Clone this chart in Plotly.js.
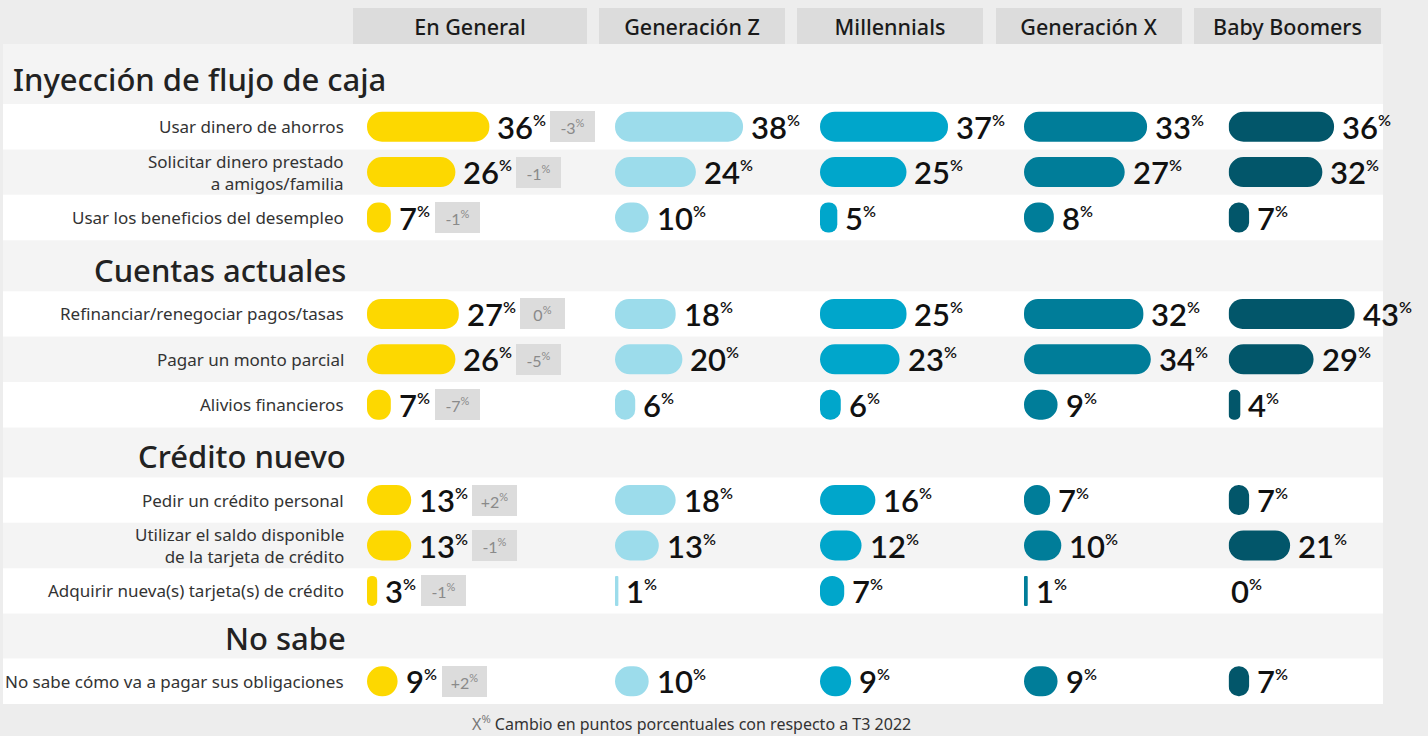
<!DOCTYPE html>
<html><head><meta charset="utf-8">
<script src="https://cdn.plot.ly/plotly-3.0.1.min.js"></script>
<style>html,body{margin:0;padding:0;background:#ededed;overflow:hidden}</style>
</head><body><div id="chart" style="width:1428px;height:736px"></div>
<script>
// ---------------- DATA ----------------
const groups = ['En General', 'Generación Z', 'Millennials', 'Generación X', 'Baby Boomers'];
const sections = ['Inyección de flujo de caja', 'Cuentas actuales', 'Crédito nuevo', 'No sabe'];
const itemSection = [0, 0, 0, 1, 1, 1, 2, 2, 2, 3];
const items = [
  'Usar dinero de ahorros',
  'Solicitar dinero prestado<br>a amigos/familia',
  'Usar los beneficios del desempleo',
  'Refinanciar/renegociar pagos/tasas',
  'Pagar un monto parcial',
  'Alivios financieros',
  'Pedir un crédito personal',
  'Utilizar el saldo disponible<br>de la tarjeta de crédito',
  'Adquirir nueva(s) tarjeta(s) de crédito',
  'No sabe cómo va a pagar sus obligaciones'
];
const enGeneral   = [36, 26, 7, 27, 26, 7, 13, 13, 3, 9];
const generacionZ = [38, 24, 10, 18, 20, 6, 18, 13, 1, 10];
const millennials = [37, 25, 5, 25, 23, 6, 16, 12, 7, 9];
const generacionX = [33, 27, 8, 32, 34, 9, 7, 10, 1, 9];
const babyBoomers = [36, 32, 7, 43, 29, 4, 7, 21, 0, 7];
const changeVsT3  = ['-3', '-1', '-1', '0', '-5', '-7', '+2', '-1', '-1', '+2'];
const footnoteText = 'Cambio en puntos porcentuales con respecto a T3 2022';

// ---------------- LAYOUT / STYLE ----------------
const seriesValues = [enGeneral, generacionZ, millennials, generacionX, babyBoomers];
const colors = ['#FDD800', '#9CDCEB', '#00A6CB', '#007D99', '#02566A'];
const W = 1428, H = 736, TOP = 44, BOT = 32;
const PANEL_H = H - TOP - BOT;
const sectionHeaderH = [60, 51, 50, 45];
const rowH = (PANEL_H - sectionHeaderH.reduce((a, b) => a + b, 0)) / items.length;
const colStartPx = [367, 615, 820, 1024, 1228.6];
const colPxPerPct = [3.4, 3.37, 3.46, 3.73, 2.93];
const AXIS_MAX = 45;
const headerBoxPx = [[353, 587], [599, 785], [797, 983], [996, 1182], [1194, 1381]];
const FONT = 'Lato, "Open Sans", sans-serif';
const FONT2 = '"Noto Sans", "Open Sans", sans-serif';
const BAR_T = 30;
const pyPaper = px => (H - BOT - px) / PANEL_H;   // page pixel -> paper y

// row geometry
let cursor = 0, cur = -1;
const rowCenter = [], rowTop = [], rowIdxInSec = [], secBottom = [];
let k = 0;
items.forEach((it, i) => {
  if (itemSection[i] !== cur) { cur = itemSection[i]; cursor += sectionHeaderH[cur]; secBottom[cur] = cursor; k = 0; }
  rowTop[i] = cursor; rowCenter[i] = cursor + rowH / 2; rowIdxInSec[i] = k++;
  cursor += rowH;
});

const traces = [];
const layout = {
  width: W, height: H,
  margin: {l: 0, r: 0, t: TOP, b: BOT, pad: 0},
  paper_bgcolor: '#ededed', plot_bgcolor: 'rgba(0,0,0,0)',
  showlegend: false, barmode: 'overlay', hovermode: false,
  yaxis: {range: [PANEL_H, 0], visible: false, fixedrange: true, domain: [0, 1]},
  shapes: [], annotations: []
};

// backgrounds
layout.shapes.push({type: 'rect', xref: 'paper', yref: 'y', x0: 3 / W, x1: 1383 / W, y0: 0, y1: PANEL_H,
  fillcolor: '#f4f4f4', line: {width: 0}, layer: 'below'});
items.forEach((it, i) => {
  if (rowIdxInSec[i] % 2 === 0) {
    layout.shapes.push({type: 'rect', xref: 'paper', yref: 'y', x0: 3 / W, x1: 1383 / W,
      y0: rowTop[i], y1: rowTop[i] + rowH, fillcolor: '#ffffff', line: {width: 0}, layer: 'below'});
  }
});

// axes + bars
seriesValues.forEach((vals, g) => {
  const ax = g === 0 ? 'x' : 'x' + (g + 1);
  const axName = g === 0 ? 'xaxis' : 'xaxis' + (g + 1);
  const d0 = colStartPx[g] / W, d1 = (colStartPx[g] + AXIS_MAX * colPxPerPct[g]) / W;
  layout[axName] = {domain: [d0, d1], range: [0, AXIS_MAX], visible: false, fixedrange: true, anchor: 'y'};
  traces.push({type: 'bar', orientation: 'h', xaxis: ax, yaxis: 'y', y: rowCenter, width: BAR_T,
    x: vals, base: vals.map(() => 0),
    marker: {color: colors[g], cornerradius: '50%', line: {width: 0}}, hoverinfo: 'skip'});
  // value labels
  vals.forEach((v, i) => {
    layout.annotations.push({xref: ax, yref: 'y', x: v, y: rowCenter[i], xanchor: 'left', yanchor: 'middle',
      xshift: v > 0 ? 6 : 0, yshift: 0, showarrow: false,
      text: v + '<sup><span style="font-size:16px">%</span></sup>',
      font: {family: FONT, size: 31, color: '#111', weight: 600}});
    if (g === 0) {
      const labelW = String(v).length > 1 ? 51 : 34;
      layout.annotations.push({xref: ax, yref: 'y', x: v, y: rowCenter[i], xanchor: 'left', yanchor: 'middle',
        xshift: 6 + labelW + 4, showarrow: false, width: 45, height: 31, borderpad: 0, borderwidth: 0,
        bgcolor: '#dcdcdc', align: 'center', valign: 'middle',
        text: changeVsT3[i] + '<sup><span style="font-size:11px">%</span></sup>', font: {family: FONT, size: 16, color: '#8a8a8a'}});
    }
  });
  // column header box
  const hb = headerBoxPx[g];
  layout.annotations.push({xref: 'paper', yref: 'paper', x: (hb[0] + hb[1]) / 2 / W, y: pyPaper(26), xanchor: 'center', yanchor: 'middle',
    showarrow: false, width: hb[1] - hb[0], height: 36, borderpad: 0, borderwidth: 0, bgcolor: '#dcdcdc',
    text: groups[g], font: {family: FONT2, size: 21.5, color: '#1a1a1a', weight: 500}});
});

// row labels
items.forEach((it, i) => {
  layout.annotations.push({xref: 'paper', yref: 'y', x: 346 / W, y: rowCenter[i], xanchor: 'right', yanchor: 'middle',
    showarrow: false, align: 'right', text: it, font: {family: FONT2, size: 17, color: '#333'}});
});
// section headings
sections.forEach((s, j) => {
  const first = j === 0;
  layout.annotations.push({xref: 'paper', yref: 'y', x: first ? 11 / W : 348 / W, y: secBottom[j] - (first ? 25 : 21),
    xanchor: first ? 'left' : 'right', yanchor: 'middle', showarrow: false, text: s,
    font: {family: FONT2, size: 31, color: '#222', weight: 500}});
});
// footnote
layout.annotations.push({xref: 'paper', yref: 'paper', x: 691 / W, y: pyPaper(723), xanchor: 'center', yanchor: 'middle',
  showarrow: false, text: '<span style="color:#777">X<sup>%</sup></span> ' + footnoteText,
  font: {family: FONT2, size: 16, color: '#333'}});

Plotly.newPlot('chart', traces, layout, {staticPlot: true, displayModeBar: false});
</script></body></html>
